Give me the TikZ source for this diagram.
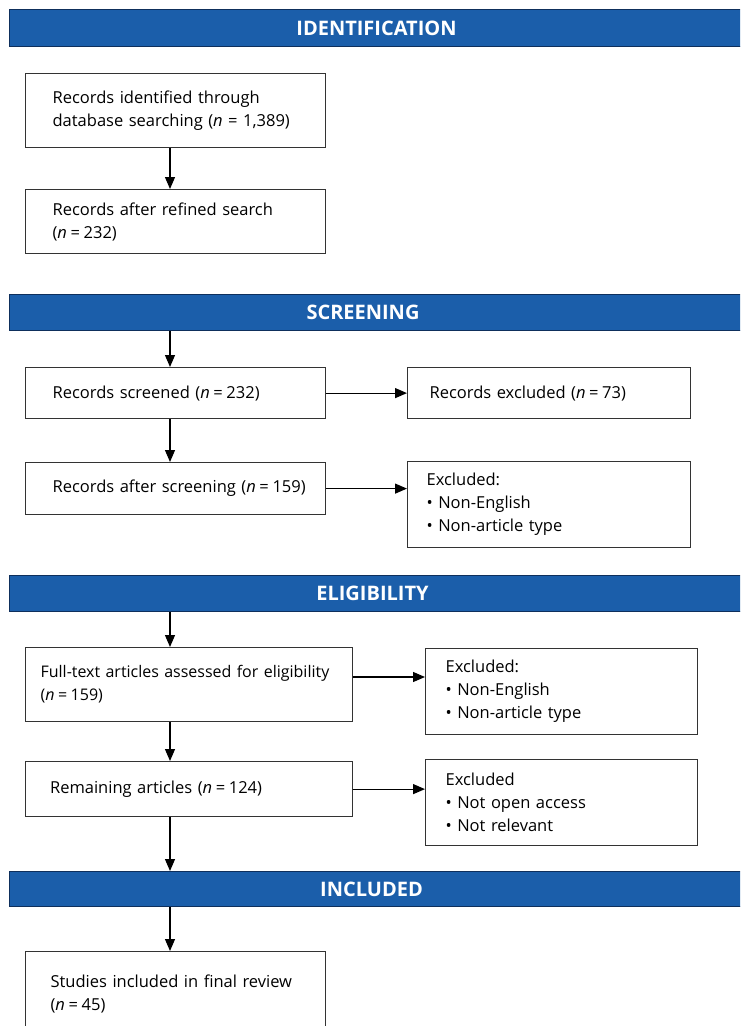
\documentclass[tikz,border=0pt]{standalone}
\usepackage{fontspec}
\setmainfont{Open Sans}
\usetikzlibrary{arrows.meta}
\definecolor{bannerblue}{HTML}{1B5EAA}
\definecolor{bannerline}{HTML}{0E2F5C}
\definecolor{boxline}{HTML}{333333}
\tikzset{
  banner/.style={draw=bannerline, line width=1pt, fill=bannerblue, anchor=north west,
    minimum width=760pt, inner sep=0pt},
  bantext/.style={text=white, inner sep=0pt, font=\fontsize{20}{22}\selectfont\bfseries},
  box/.style={draw=boxline, line width=1.2pt, fill=white, anchor=north west, align=left,
    inner ysep=0pt, font=\fontsize{16.5}{23}\selectfont},
  arr/.style={draw=black, line width=1.2pt, -{Triangle[length=12pt,width=10pt]}}
}
\newcommand{\nn}{\textit{n}}
\newcommand{\eq}{\hspace{0.22em}=\hspace{0.22em}}
\newcommand{\txl}[1]{\mbox{#1}}
\begin{document}
\begin{tikzpicture}[x=1pt,y=-1pt]
\useasboundingbox (0,0) rectangle (740,1026);
\fill[white] (0,0) rectangle (740,1026);
\clip (0,0) rectangle (740,1026);
% banners
\node[banner, minimum height=37pt] (ban1) at (8.5,9) {};
\node[bantext] (t1) at (376.5,28) {IDENTIFICATION};
\node[banner, minimum height=36pt] (ban2) at (8.5,294) {};
\node[bantext] (t2) at (363,312.5) {SCREENING};
\node[banner, minimum height=36pt] (ban3) at (8.5,575) {};
\node[bantext] (t3) at (372.5,593.5) {ELIGIBILITY};
\node[banner, minimum height=35pt] (ban4) at (8.5,871) {};
\node[bantext] (t4) at (371.5,889) {INCLUDED};
\coordinate (axis) at (170,0);
% left column (width 300.5)
\node[box, inner xsep=27.5pt, text width=245.5pt, minimum height=74pt] (b1) at (24.5,73)
  {\txl{Records identified through}\\\txl{database searching (\nn{} = 1,389)}};
\node[box, inner xsep=27.5pt, text width=245.5pt, minimum height=64pt] (b2) at (24.5,189)
  {\txl{Records after refined search}\\\txl{(\nn\eq232)}};
\node[box, inner xsep=27.5pt, text width=245.5pt, minimum height=51pt] (b3) at (24.5,367)
  {\txl{Records screened (\nn\eq232)}};
\node[box, inner xsep=27.5pt, text width=245.5pt, minimum height=52pt] (b4) at (24.5,462)
  {\txl{Records after screening (\nn\eq159)}};
% width 327
\node[box, inner xsep=15.5pt, text width=296pt, minimum height=74pt,
  font=\fontsize{16}{23}\selectfont] (b5) at (24.5,647)
  {\txl{Full-text articles assessed for eligibility}\\\txl{(\nn\eq159)}};
\node[box, inner xsep=25pt, text width=277pt, minimum height=55pt] (b6) at (24.5,761)
  {\txl{Remaining articles (\nn\eq124)}};
\node[box, inner xsep=25.5pt, text width=249.5pt, minimum height=84pt] (b7) at (24.5,951)
  {\txl{Studies included in final review}\\\txl{(\nn\eq45)}};
% right column (width 283 / 272)
\node[box, inner xsep=22pt, text width=239pt, minimum height=51pt] (r1) at (407,367)
  {\txl{Records excluded (\nn\eq73)}};
\node[box, inner xsep=19pt, text width=245pt, minimum height=86pt] (r2) at (407,461)
  {\txl{Excluded:}\\\txl{\textbullet\ Non-English}\\\txl{\textbullet\ Non-article type}};
\node[box, inner xsep=20pt, text width=232pt, minimum height=86pt] (r3) at (425,648)
  {\txl{Excluded:}\\\txl{\textbullet\ Non-English}\\\txl{\textbullet\ Non-article type}};
\node[box, inner xsep=20pt, text width=232pt, minimum height=86pt] (r4) at (425,759)
  {\txl{Excluded}\\\txl{\textbullet\ Not open access}\\\txl{\textbullet\ Not relevant}};
% vertical arrows
\draw[arr] (b1.south -| axis) -- (b2.north -| axis);
\draw[arr] (ban2.south -| axis) -- (b3.north -| axis);
\draw[arr] (b3.south -| axis) -- (b4.north -| axis);
\draw[arr] (ban3.south -| axis) -- (b5.north -| axis);
\draw[arr] (b5.south -| axis) -- (b6.north -| axis);
\draw[arr] (b6.south -| axis) -- (ban4.north -| axis);
\draw[arr] (ban4.south -| axis) -- (b7.north -| axis);
% horizontal arrows
\draw[arr] (b3.east) -- (r1.west |- b3.east);
\draw[arr] (b4.east) -- (r2.west |- b4.east);
\coordinate (y5) at (0,677);
\draw[arr] (b5.east |- y5) -- (r3.west |- y5);
\draw[arr] (b6.east) -- (r4.west |- b6.east);
\end{tikzpicture}
\end{document}
